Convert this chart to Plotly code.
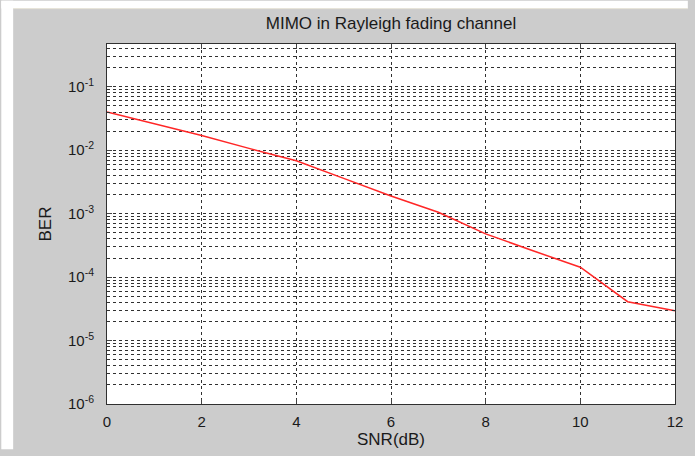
import plotly.graph_objects as go

snr_db = [0, 1, 2, 3, 4, 5, 6, 7, 8, 9, 10, 11, 12]
ber = [0.040, 0.026, 0.0171, 0.0107, 0.0068, 0.0036, 0.0019, 0.00105,
       0.00048, 0.00026, 0.000143, 0.000041, 0.0000295]

x_ticks = [0, 2, 4, 6, 8, 10, 12]
y_ticks = [1e-6, 1e-5, 1e-4, 1e-3, 1e-2, 1e-1]
y_ticktext = ["10<sup>-6</sup>", "10<sup>-5</sup>", "10<sup>-4</sup>",
              "10<sup>-3</sup>", "10<sup>-2</sup>", "10<sup>-1</sup>"]

W, H = 695, 456
L, R, T, B = 107, 13, 44, 46
pw, ph = W - L - R, H - T - B

def px_x(p):
    return (p - L) / pw

def px_y(p):
    return (H - B - p) / ph

fig = go.Figure()
fig.add_trace(go.Scatter(x=snr_db, y=ber, mode="lines",
                         line=dict(color="#ff2626", width=1.5),
                         showlegend=False))

grid_col = "#303030"
ffam = "Liberation Sans, Arial, sans-serif"
font = dict(family=ffam, size=15, color="#1a1a1a")

fig.update_layout(
    width=W, height=H,
    margin=dict(l=L, r=R, t=T, b=B),
    paper_bgcolor="#cccccc",
    plot_bgcolor="white",
    font=font,
    title=dict(text="MIMO in Rayleigh fading channel", x=px_x(394.5), xref="paper",
               xanchor="center", y=1 - 23 / H, yanchor="middle",
               font=dict(size=17, family=ffam, color="#1a1a1a")),
    xaxis=dict(range=[0, 12], tickvals=x_ticks, ticks="inside", ticklen=5,
               showline=True, linecolor="#303030", linewidth=1, mirror="ticks",
               showgrid=True, gridcolor=grid_col, griddash="3px,3px", gridwidth=1,
               zeroline=False, ticklabelstandoff=4,
               title=dict(text="SNR(dB)", standoff=2, font=dict(size=17, family=ffam))),
    yaxis=dict(type="log", range=[-6, -0.326], tickvals=y_ticks, ticktext=y_ticktext,
               ticks="inside", ticklen=5,
               showline=True, linecolor="#303030", linewidth=1, mirror="ticks",
               showgrid=True, gridcolor=grid_col, griddash="3px,3px", gridwidth=1,
               zeroline=False, ticklabelstandoff=9,
               minor=dict(dtick="D1", ticks="inside", ticklen=3, tickcolor="#303030",
                          showgrid=True, gridcolor=grid_col, griddash="3px,3px", gridwidth=1),
               title=dict(text="BER", standoff=12, font=dict(size=17, family=ffam))),
    shapes=[
        dict(type="rect", xref="paper", yref="paper", layer="below",
             x0=px_x(0), x1=px_x(12), y0=px_y(H), y1=px_y(0),
             fillcolor="white", line=dict(width=0)),
        dict(type="rect", xref="paper", yref="paper", layer="below",
             x0=px_x(0), x1=px_x(W), y0=px_y(8), y1=px_y(0),
             fillcolor="white", line=dict(width=0)),
        dict(type="line", xref="paper", yref="paper", layer="below",
             x0=px_x(12), x1=px_x(W), y0=px_y(8), y1=px_y(8),
             line=dict(color="#e8e4d8", width=1)),
    ],
)

fig.write_html("out.html", config={"displayModeBar": False},
               post_script="document.body.style.margin='0';document.body.style.overflow='hidden';")
